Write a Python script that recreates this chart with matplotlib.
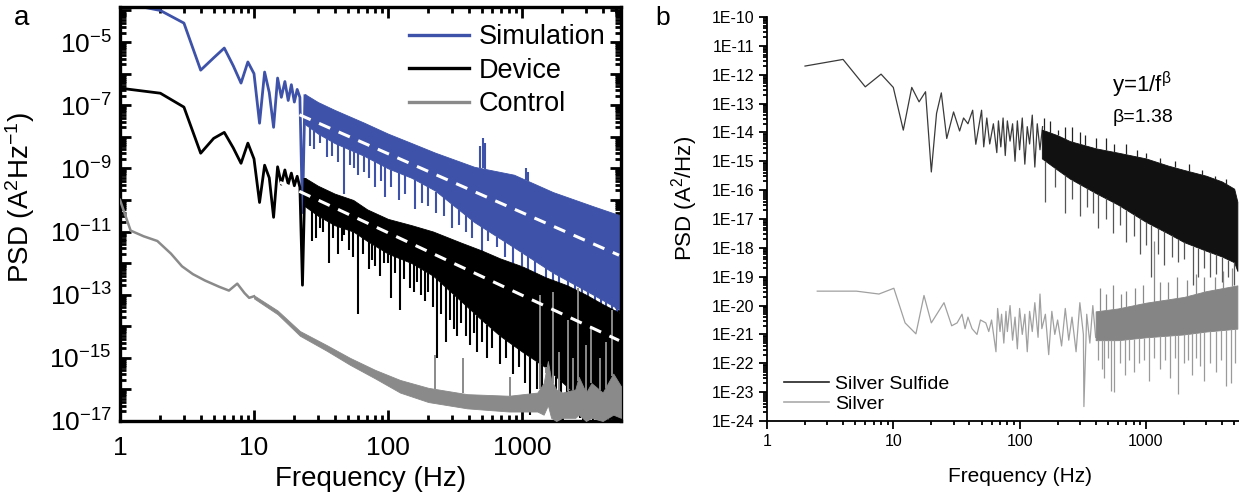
import numpy as np
import matplotlib
matplotlib.use("Agg")
import matplotlib.pyplot as plt
from matplotlib.lines import Line2D
from matplotlib.ticker import LogLocator, FixedLocator, FuncFormatter, NullFormatter

plt.rcParams['font.family'] = ['Liberation Sans', 'DejaVu Sans']
plt.rcParams['mathtext.fontset'] = 'custom'
plt.rcParams['mathtext.rm'] = 'Liberation Sans'
plt.rcParams['mathtext.it'] = 'Liberation Sans:italic'
plt.rcParams['mathtext.bf'] = 'Liberation Sans:bold'

# all PSD values are log10 of the value

# ---- panel a ----
sim_low_f = list(range(1, 25))
sim_low_v = [-3.75, -4.0, -4.40, -5.89, -5.5, -5.19, -5.75, -6.30, -5.63, -6.0,
             -7.57, -5.95, -6.6, -7.70, -6.14, -6.75, -6.25, -6.85, -6.35, -6.9,
             -6.5, -6.75, -10.4, -6.7]
sim_band_f = [24, 30, 40, 66, 100, 150, 224, 440, 870, 1700, 3400, 5480]
sim_band_top = [-6.65, -6.9, -7.15, -7.55, -7.9, -8.2, -8.5, -8.95, -9.2, -9.75, -10.2, -10.5]
sim_band_bot = [-7.6, -7.9, -8.2, -8.6, -9.0, -9.3, -9.7, -10.7, -11.5, -12.3, -13.0, -13.5]
sim_dip_f = [26, 28, 31, 35, 38, 42, 47, 52, 56, 60, 66, 72, 80, 88, 95, 105, 120, 135,
             160, 180, 200, 230, 260, 300, 340, 380, 420, 500, 560, 650, 750, 850, 1000,
             1100, 1250, 1500, 1700, 1900, 2200, 2500, 2800, 3100, 3500, 3900, 4200,
             4700, 5100]
sim_dip_v = [-8.3, -8.4, -8.2, -8.65, -8.6, -8.8, -9.8, -8.9, -9.0, -9.2, -9.1, -9.3,
             -9.6, -9.4, -9.9, -9.6, -10.0, -9.8, -10.3, -10.1, -10.2, -10.4, -10.5,
             -10.9, -10.8, -11.0, -11.2, -11.7, -11.3, -11.5, -11.8, -12.0, -12.1,
             -12.3, -12.4, -12.8, -12.7, -12.9, -13.0, -13.2, -13.4, -13.3, -13.6,
             -13.5, -13.8, -13.7, -13.9]
sim_peak_f = [490, 510, 530, 1070, 1100]
sim_peak_v = [-8.3, -8.05, -8.2, -9.0, -9.1]

dev_low_f = list(range(1, 25))
dev_low_v = [-6.46, -6.62, -7.06, -8.52, -8.05, -7.86, -8.35, -8.84, -8.2, -8.7,
             -10.08, -8.9, -9.3, -10.55, -8.95, -9.5, -9.05, -9.5, -9.15, -9.55,
             -9.25, -9.6, -12.7, -9.35]
dev_band_f = [24, 30, 40, 55, 70, 100, 150, 217, 350, 500, 685, 1000, 1500, 2160, 3000, 4000, 5480]
dev_band_top = [-9.3, -9.55, -9.8, -10.0, -10.3, -10.6, -10.8, -11.0, -11.35, -11.6,
                -11.85, -12.1, -12.45, -12.7, -13.0, -13.3, -13.6]
dev_band_bot = [-10.2, -10.5, -10.8, -11.0, -11.3, -11.7, -12.0, -12.4, -13.2, -13.8,
                -14.3, -14.8, -15.3, -15.9, -16.5, -16.9, -17.0]
dev_dip_f = [27, 29, 31, 33, 36, 39, 42, 45, 47, 51,
             55, 60, 65, 72, 76, 80, 87, 93, 100, 105,
             112, 123, 131, 139, 147, 155, 165, 176, 188, 200,
             215, 231, 250, 270, 290, 310, 327, 350, 380, 410,
             440, 460, 500, 549, 600, 685, 760, 860, 950, 1050,
             1150, 1300, 1420, 1530, 1650, 1800, 1950, 2150, 2300, 2500,
             2700, 2850, 3100, 3400, 3700, 4000, 4300, 4530, 4900]
dev_dip_v = [-11.3, -11.2, -10.9, -11.0, -12.0, -11.2, -11.7, -11.3, -11.1, -11.6,
             -11.8, -13.6, -11.7, -12.2, -11.9, -12.1, -12.4, -12.0, -12.0, -13.1,
             -12.3, -13.5, -12.5, -11.9, -12.8, -12.9, -12.6, -13.0, -13.2, -12.9,
             -13.4, -15.0, -13.6, -14.5, -13.8, -14.1, -14.3, -13.9, -14.3, -14.6,
             -14.2, -14.8, -14.5, -15.0, -14.7, -15.2, -15.0, -15.5, -15.3, -15.8,
             -16.8, -16.0, -16.3, -16.5, -16.2, -16.6, -16.4, -16.9, -16.6, -16.7,
             -16.9, -17.0, -16.8, -17.0, -16.9, -16.8, -17.0, -17.0, -16.9]

ctl_low_f = [1, 1.2, 1.5, 1.9, 2.4, 2.9, 3.5, 4.3, 5.5, 6.5, 7.5, 8.5, 9.2, 10]
ctl_low_v = [-10.0, -10.97, -11.15, -11.3, -11.7, -12.1, -12.35, -12.55, -12.75,
             -12.87, -12.65, -12.95, -13.1, -13.05]
ctl_band_f = [10, 15, 22, 35, 52, 80, 123, 200, 390, 800,
              1300, 1450, 1560, 1650, 1800, 2000, 2500, 2650, 3000, 3300,
              4000, 4800, 5480]
ctl_band_top = [-13.02, -13.5, -14.15, -14.6, -15.0, -15.38, -15.7, -15.95, -16.15, -16.2,
                -16.1, -15.8, -15.1, -15.7, -16.0, -16.1, -16.0, -15.6, -16.1, -15.8,
                -16.1, -15.5, -15.9]
ctl_band_bot = [-13.12, -13.62, -14.3, -14.78, -15.22, -15.65, -16.1, -16.4, -16.6, -16.7,
                -16.7, -16.8, -16.5, -16.9, -17.0, -16.9, -16.9, -16.8, -17.0, -16.9,
                -17.0, -16.8, -16.9]
ctl_peak_f = [225, 360, 810, 1360, 1500, 1700, 1900, 2200, 2400, 2600, 3000, 3300, 3800,
              4200, 4700]
ctl_peak_v = [-14.9, -15.0, -15.6, -13.0, -15.3, -12.9, -14.8, -13.8, -15.0, -12.8, -14.6,
              -14.0, -15.0, -14.5, -13.5]

fit_f = [15.6, 5300]
sim_fit_v = [-7.03, -11.75]
dev_fit_v = [-9.44, -14.45]

# ---- panel b ----
sulf_low_f = [2, 4, 6, 8, 10, 12, 14, 16, 18, 20, 22, 24, 26.5, 30, 33.5, 36, 39, 42.5,
              45, 50, 52, 55, 58, 62, 66, 68, 71, 74, 77, 80, 84, 88, 92, 96, 100, 105,
              110, 115, 120, 126, 132, 138, 145, 152]
sulf_low_v = [-11.70, -11.47, -12.42, -11.98, -12.44, -13.92, -12.44, -12.94, -12.59,
              -15.37, -13.34, -12.63, -14.21, -13.29, -13.95, -13.5, -13.7, -13.23,
              -14.41, -13.23, -14.5, -13.5, -14.4, -13.7, -14.7, -13.6, -14.5, -13.5,
              -14.8, -13.6, -14.3, -13.7, -15.0, -13.6, -14.6, -13.5, -15.1, -13.8,
              -14.4, -13.4, -15.2, -13.7, -14.6, -13.8]
sulf_band_f = [150, 200, 250, 400, 600, 1000, 1500, 2000, 3000, 4000, 5000, 5300]
sulf_band_top = [-13.9, -14.1, -14.3, -14.55, -14.7, -14.9, -15.15, -15.3, -15.5, -15.7,
                 -15.95, -16.4]
sulf_band_bot = [-14.9, -15.3, -15.6, -16.1, -16.5, -17.1, -17.5, -17.8, -18.1, -18.3,
                 -18.5, -18.8]
sulf_dip_f = [160, 190, 230, 260, 300, 340, 380, 420, 480, 550,
              620, 700, 800, 900, 1000, 1100, 1250, 1400, 1600, 1800,
              2000, 2350, 2600, 2900, 3200, 3600, 4000, 4500, 5000]
sulf_dip_v = [-16.4, -15.9, -16.8, -16.3, -16.9, -16.6, -16.8, -17.3, -17.0, -17.5,
              -17.2, -17.8, -17.6, -18.2, -17.9, -19.0, -18.2, -18.6, -18.3, -18.5,
              -18.4, -19.3, -19.0, -18.7, -19.0, -18.9, -19.2, -19.0, -19.3]
sulf_peak_f = [155, 175, 200, 230, 260, 300, 330, 400, 480, 560, 700, 850, 1000, 1300,
               1700, 2200, 2800, 3500, 4300]
sulf_peak_v = [-13.5, -13.6, -13.9, -13.8, -13.8, -14.0, -14.1, -14.2, -14.2, -14.4,
               -14.4, -14.6, -14.7, -14.9, -15.0, -15.1, -15.3, -15.5, -15.6]

silver_low_f = [2.5, 5.1, 7.7, 10.1, 12.4, 15.1, 17.5, 20, 25.2, 29, 32, 35, 37, 39, 42,
                46, 49, 54, 57, 60, 65, 67, 70, 72, 75, 78, 80, 84, 88, 92, 96, 100,
                105, 110, 115, 120, 126, 132, 140, 145, 150, 160, 170, 180, 190, 200,
                215, 230, 245, 260, 280, 300, 320, 323, 340, 360, 380, 400]
silver_low_v = [-19.5, -19.5, -19.6, -19.4, -20.6, -20.98, -19.65, -20.6, -19.9, -20.7,
                -20.6, -20.3, -20.8, -20.4, -20.8, -21.0, -20.5, -20.6, -20.9, -20.5,
                -21.6, -20.1, -20.9, -20.3, -21.3, -20.2, -20.9, -20.0, -21.2, -20.4,
                -21.5, -20.1, -21.0, -20.3, -21.6, -20.2, -20.9, -19.9, -21.1, -19.6,
                -20.8, -20.3, -21.7, -20.2, -21.0, -20.5, -21.4, -20.1, -21.2, -20.4,
                -21.6, -19.9, -21.0, -23.5, -20.3, -21.3, -20.0, -21.1]
silver_band_f = [400, 600, 1000, 2000, 3000, 5300]
silver_band_top = [-20.2, -20.1, -19.9, -19.7, -19.5, -19.3]
silver_band_bot = [-21.2, -21.2, -21.1, -21.0, -20.9, -20.8]
silver_dip_f = [420, 450, 470, 500, 530, 560, 620, 680, 740, 800,
                880, 960, 1050, 1150, 1300, 1420, 1550, 1700, 1800, 2000,
                2150, 2300, 2500, 2700, 2900, 3200, 3600, 3900, 4300, 4700, 5100]
silver_dip_v = [-21.9, -22.2, -22.5, -21.8, -22.95, -23.0, -22.0, -22.4, -21.9, -22.3,
                -22.0, -21.9, -22.6, -21.8, -22.2, -21.9, -22.5, -21.8, -23.06, -22.0,
                -21.9, -22.4, -21.8, -22.1, -22.6, -22.0, -22.3, -21.9, -22.8, -22.7, -22.0]
silver_peak_f = [430, 480, 550, 640, 700, 820, 950, 1150, 1300, 1500, 1750, 2100, 2500,
                 2900, 3500, 4100, 4800]
silver_peak_v = [-19.4, -19.6, -19.3, -19.6, -19.5, -19.4, -19.3, -17.75, -19.2, -19.2,
                 -19.0, -19.1, -18.9, -19.0, -19.0, -18.8, -18.7]

BLUE = '#3d52a8'
GRAY = '#8a8a8a'


def p10(v):
    return 10.0 ** np.asarray(v, dtype=float)


def draw_band(ax, f, top, bot, color, z):
    ax.fill_between(f, p10(bot), p10(top), color=color, lw=0.6, edgecolor=color, zorder=z)


def draw_spikes(ax, f, v, band_f, band_edge, color, lw, z):
    # spikes start at the dense band edge and run to the read value
    edge = np.interp(np.log10(f), np.log10(band_f), band_edge)
    ax.vlines(f, p10(v), p10(edge), color=color, lw=lw, zorder=z)


fig = plt.figure(figsize=(12.39, 4.96), dpi=100)

# ------------------- panel a -------------------
ax = fig.add_axes([120 / 1239, 75 / 496, 501 / 1239, 414 / 496])
ax.set_xscale('log')
ax.set_yscale('log')

ax.plot(sim_low_f, p10(sim_low_v), color=BLUE, lw=2.0, zorder=2)
draw_band(ax, sim_band_f, sim_band_top, sim_band_bot, BLUE, 2)
draw_spikes(ax, sim_dip_f, sim_dip_v, sim_band_f, sim_band_bot, BLUE, 1.5, 2)
draw_spikes(ax, sim_peak_f, sim_peak_v, sim_band_f, sim_band_top, BLUE, 1.5, 2)

ax.plot(dev_low_f, p10(dev_low_v), color='black', lw=2.0, zorder=3)
draw_band(ax, dev_band_f, dev_band_top, dev_band_bot, 'black', 3)
draw_spikes(ax, dev_dip_f, dev_dip_v, dev_band_f, dev_band_bot, 'black', 1.5, 3)

ax.plot(ctl_low_f, p10(ctl_low_v), color=GRAY, lw=1.8, zorder=4)
draw_band(ax, ctl_band_f, ctl_band_top, ctl_band_bot, GRAY, 4)
draw_spikes(ax, ctl_peak_f, ctl_peak_v, ctl_band_f, ctl_band_top, GRAY, 1.4, 4)

ax.plot(fit_f, p10(sim_fit_v), color='white', lw=2.2, ls=(0, (4, 3)), zorder=6)
ax.plot(fit_f, p10(dev_fit_v), color='white', lw=2.2, ls=(0, (4, 3)), zorder=6)

ax.set_xlim(1, 5480)
ax.set_ylim(1e-17, 10 ** -3.89)

ax.xaxis.set_major_locator(FixedLocator([1, 10, 100, 1000]))
ax.xaxis.set_major_formatter(FuncFormatter(lambda x, p: '%g' % x))
ax.xaxis.set_minor_locator(LogLocator(base=10, subs=np.arange(2, 10), numticks=100))
ax.xaxis.set_minor_formatter(NullFormatter())


def fmt_a(y, pos):
    e = int(round(np.log10(y)))
    if e % 2 == 0:
        return ''
    return r'$\mathregular{10^{%d}}$' % e


ax.yaxis.set_major_locator(FixedLocator(p10(np.arange(-17, -3))))
ax.yaxis.set_major_formatter(FuncFormatter(fmt_a))
ax.yaxis.set_minor_locator(LogLocator(base=10, subs=np.arange(2, 10), numticks=100))
ax.yaxis.set_minor_formatter(NullFormatter())

ax.tick_params(which='both', direction='in', top=True, right=True, width=2)
ax.tick_params(which='major', length=8, labelsize=19)
ax.tick_params(which='minor', length=4)
ax.tick_params(axis='x', which='major', pad=11)
ax.tick_params(axis='y', which='major', pad=6)
for s in ax.spines.values():
    s.set_linewidth(2.4)

ax.set_xlabel('Frequency (Hz)', fontsize=20)
ax.xaxis.set_label_coords(0.5, -0.108)
ax.set_ylabel(r'PSD (A$^\mathregular{2}$Hz$^\mathregular{-1}$)', fontsize=20)
ax.yaxis.set_label_coords(-0.166, 0.54)

handles = [Line2D([], [], color=BLUE, lw=2.4), Line2D([], [], color='black', lw=2.4),
           Line2D([], [], color=GRAY, lw=2.4)]
ax.legend(handles, ['Simulation', 'Device', 'Control'], loc='upper right',
          bbox_to_anchor=(0.99, 0.985), frameon=False, fontsize=19.5, handlelength=2.2,
          handletextpad=0.35, labelspacing=0.28, borderaxespad=0.0)

fig.text(22 / 1239, 1 - 18 / 496, 'a', fontsize=20, ha='center', va='center')

# ------------------- panel b -------------------
bx = fig.add_axes([767 / 1239, 75 / 496, 472 / 1239, 404 / 496])
bx.set_xscale('log')
bx.set_yscale('log')

bx.plot(sulf_low_f, p10(sulf_low_v), color='#3a3a3a', lw=0.9, zorder=2)
draw_band(bx, sulf_band_f, sulf_band_top, sulf_band_bot, '#111111', 2)
draw_spikes(bx, sulf_dip_f, sulf_dip_v, sulf_band_f, sulf_band_bot, '#555555', 0.9, 2)
draw_spikes(bx, sulf_peak_f, sulf_peak_v, sulf_band_f, sulf_band_top, '#222222', 0.9, 2)

bx.plot(silver_low_f, p10(silver_low_v), color='#a0a0a0', lw=0.9, zorder=3)
draw_band(bx, silver_band_f, silver_band_top, silver_band_bot, '#858585', 3)
draw_spikes(bx, silver_dip_f, silver_dip_v, silver_band_f, silver_band_bot, '#9a9a9a', 0.9, 3)
draw_spikes(bx, silver_peak_f, silver_peak_v, silver_band_f, silver_band_top, '#8a8a8a', 0.9, 3)

bx.set_xlim(1, 5460)
bx.set_ylim(1e-24, 1e-10)
bx.spines['top'].set_visible(False)
bx.spines['right'].set_visible(False)
for s in ('left', 'bottom'):
    bx.spines[s].set_linewidth(1.3)

bx.xaxis.set_major_locator(FixedLocator([1, 10, 100, 1000]))
bx.xaxis.set_major_formatter(FuncFormatter(lambda x, p: '%g' % x))
bx.xaxis.set_minor_locator(LogLocator(base=10, subs=np.arange(2, 10), numticks=100))
bx.xaxis.set_minor_formatter(NullFormatter())
bx.yaxis.set_major_locator(FixedLocator(p10(np.arange(-24, -9))))
bx.yaxis.set_major_formatter(FuncFormatter(lambda y, p: '1E%d' % int(round(np.log10(y)))))
bx.yaxis.set_minor_locator(LogLocator(base=10, subs=np.arange(2, 10), numticks=100))
bx.yaxis.set_minor_formatter(NullFormatter())
bx.tick_params(which='both', direction='out', width=1.3)
bx.tick_params(which='major', length=6, labelsize=11.5, pad=3)
bx.tick_params(which='minor', length=3)

bx.set_xlabel('Frequency (Hz)', fontsize=15)
bx.xaxis.set_label_coords(0.536, -0.115)
bx.set_ylabel(r'PSD (A$^\mathregular{2}$/Hz)', fontsize=16)
bx.yaxis.set_label_coords(-0.142, 0.55)

bx.legend([Line2D([], [], color='#222222', lw=1.2), Line2D([], [], color='#aaaaaa', lw=1.2)],
          ['Silver Sulfide', 'Silver'], loc='lower left', bbox_to_anchor=(0.02, 0.0),
          frameon=False, fontsize=14, handlelength=2.3, handletextpad=0.3,
          labelspacing=0.15, borderaxespad=0.0)

fig.text(1112 / 1239, 1 - 85 / 496, r'y=1/f$^{\mathregular{β}}$', fontsize=16, va='center')
fig.text(1113 / 1239, 1 - 117 / 496, 'β=1.38', fontsize=14, va='center')
fig.text(663 / 1239, 1 - 18 / 496, 'b', fontsize=19, ha='center', va='center')

fig.savefig('out.png', dpi=100)
